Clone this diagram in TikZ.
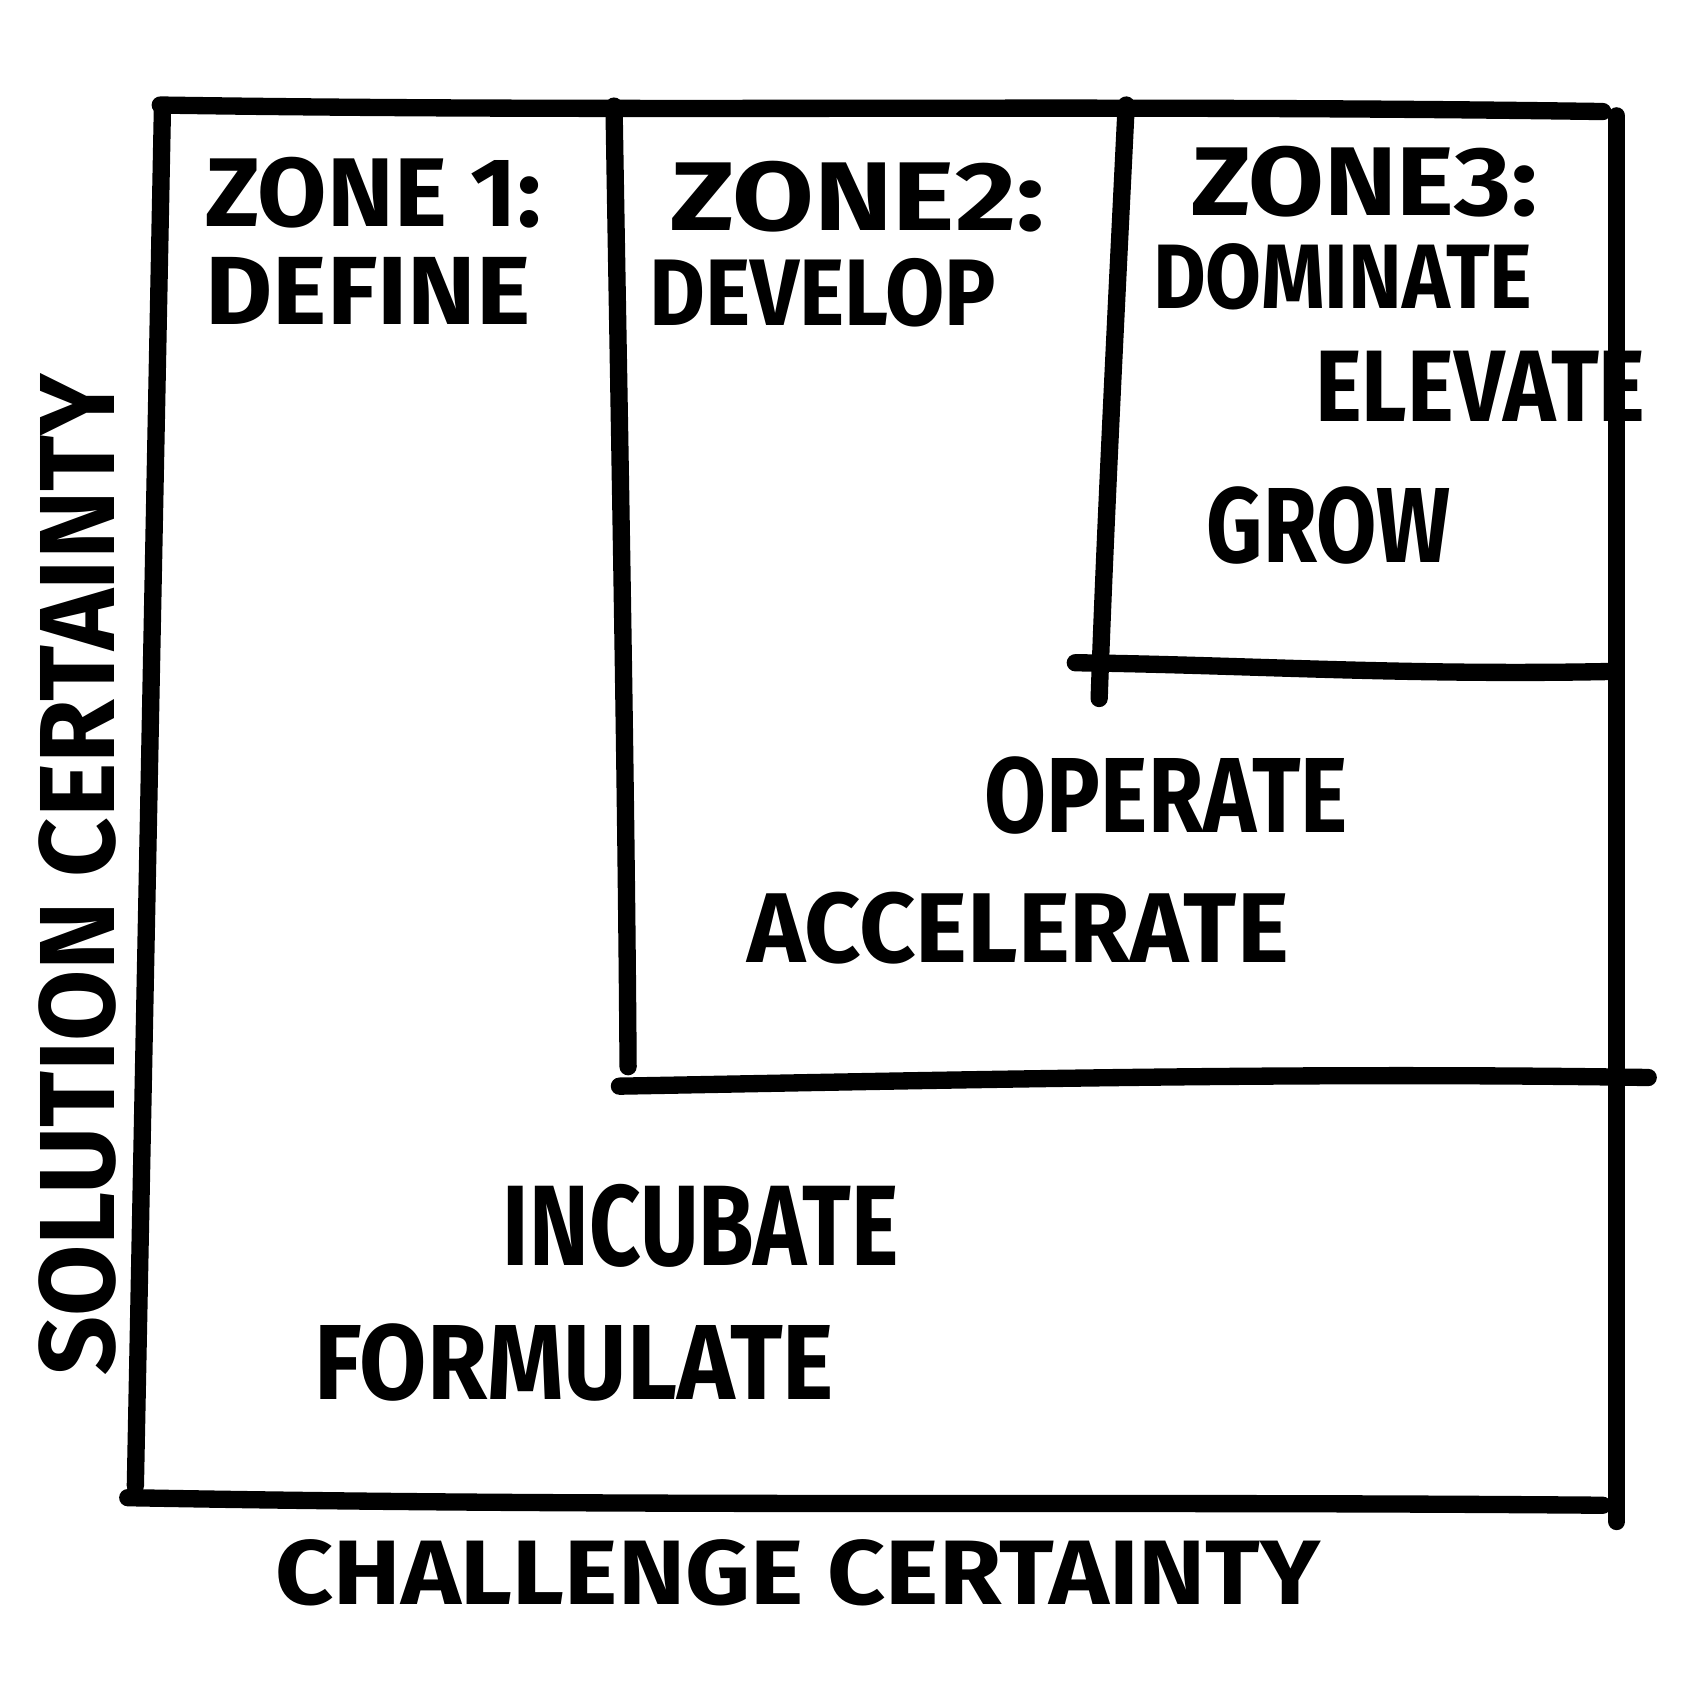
\documentclass[tikz,border=0pt]{standalone}
\usepackage{fontspec}
\setmainfont{Fira Sans}
\begin{document}
\begin{tikzpicture}[x=0.5pt,y=-0.5pt,
  stroke/.style={line width=8pt,line cap=round,black},
  lbl/.style={inner sep=0pt,font=\bfseries}]
\useasboundingbox[fill=white] (0,0) rectangle (1567,1568);
% coordinates
\coordinate (tl) at (148,97);
\coordinate (tr) at (1480,103);
\coordinate (lt) at (150,100);
\coordinate (lb) at (125,1372);
\coordinate (bl) at (118,1383);
\coordinate (br) at (1480,1390);
\coordinate (rt) at (1493,107);
\coordinate (rb) at (1493,1405);
\coordinate (d1t) at (567,98);
\coordinate (d1b) at (580,985);
\coordinate (z2l) at (572,1003);
\coordinate (z2r) at (1522,995);
\coordinate (d2t) at (1040,97);
\coordinate (d2b) at (1015,645);
\coordinate (z3l) at (993,612);
\coordinate (z3r) at (1490,620);
\draw[stroke] (tl) .. controls (600,104) and (1000,96) .. (tr);
\draw[stroke] (lt) -- (lb);
\draw[stroke] (bl) .. controls (600,1392) and (1000,1386) .. (br);
\draw[stroke] (rt) -- (rb);
\draw[stroke] (d1t) .. controls (572,400) and (578,700) .. (d1b);
\draw[stroke] (z2l) .. controls (900,997) and (1200,990) .. (z2r);
\draw[stroke] (d2t) .. controls (1030,300) and (1020,500) .. (d2b);
\draw[stroke] (z3l) .. controls (1150,614) and (1300,624) .. (z3r);
% texts
\node[lbl] (z1) at (345,178) {\resizebox{155pt}{32pt}{ZONE 1:}};
\node[lbl] (def) at (340,269) {\resizebox{150pt}{31pt}{DEFINE}};
\node[lbl] (z2) at (792,182) {\resizebox{172.5pt}{32pt}{ZONE2:}};
\node[lbl] (dev) at (760,270) {\resizebox{160pt}{31pt}{DEVELOP}};
\node[lbl] (z3) at (1260,168) {\resizebox{160pt}{32pt}{ZONE3:}};
\node[lbl] (dom) at (1240,256) {\resizebox{175pt}{30pt}{DOMINATE}};
\node[lbl] (ele) at (1367,357) {\resizebox{152.5pt}{32.5pt}{ELEVATE}};
\node[lbl] (gro) at (1227,485) {\resizebox{112.5pt}{35pt}{GROW}};
\node[lbl] (ope) at (1077,735) {\resizebox{167.5pt}{35pt}{OPERATE}};
\node[lbl] (acc) at (940,857) {\resizebox{250pt}{32.5pt}{ACCELERATE}};
\node[lbl] (inc) at (647,1132) {\resizebox{182.5pt}{37.5pt}{INCUBATE}};
\node[lbl] (for) at (530,1258) {\resizebox{240pt}{35pt}{FORMULATE}};
\node[lbl] (cc) at (737,1452) {\resizebox{482.5pt}{30pt}{CHALLENGE CERTAINTY}};
\node[lbl,rotate=90] (sc) at (72,808) {\resizebox{462.5pt}{35pt}{SOLUTION CERTAINTY}};
\end{tikzpicture}
\end{document}
